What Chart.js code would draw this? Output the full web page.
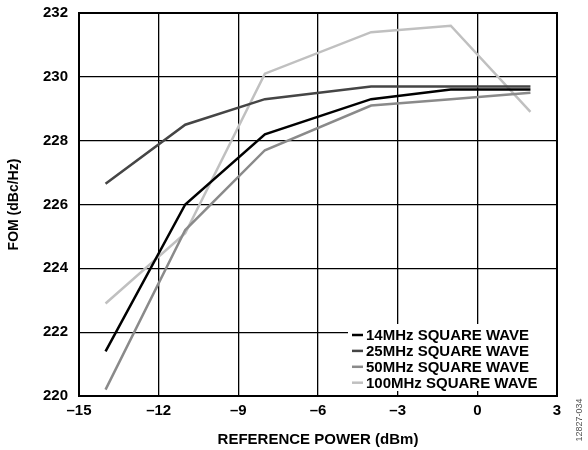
<!DOCTYPE html>
<html>
<head>
<meta charset="utf-8">
<script src="https://cdn.jsdelivr.net/npm/chart.js@4.4.1/dist/chart.umd.min.js"></script>
<style>
  html, body { margin: 0; padding: 0; background: #fff; }
</style>
</head>
<body>
<canvas id="fomChart" width="588" height="450"></canvas>
<script>
// reference power, dBm
const powers = [-14, -11, -8, -4, -1, 2];
// FOM, dBc/Hz
const fom14 = [221.4, 226.0, 228.2, 229.3, 229.6, 229.6];
const fom25 = [226.65, 228.5, 229.3, 229.7, 229.7, 229.7];
const fom50 = [220.2, 225.2, 227.7, 229.1, 229.3, 229.5];
const fom100 = [222.9, 225.1, 230.1, 231.4, 231.6, 228.9];
const seriesNames = ['14MHz SQUARE WAVE', '25MHz SQUARE WAVE', '50MHz SQUARE WAVE', '100MHz SQUARE WAVE'];
const seriesColors = ['#000000', '#454545', '#8a8a8a', '#c0c0c0'];

const pts = vals => powers.map((p, i) => ({ x: p, y: vals[i] }));
const FAMILY = '"Liberation Sans", Arial, sans-serif';

// legend box in lower right corner, drawn over the grid
const boxLegend = {
    id: 'boxLegend',
    afterDatasetsDraw(chart) {
        const { ctx, chartArea } = chart;
        const left = chartArea.right - 209;
        const top = chartArea.bottom - 72;
        ctx.save();
        ctx.fillStyle = '#fff';
        ctx.fillRect(left, top, chartArea.right - left, 67);
        ctx.font = 'bold 15px ' + FAMILY;
        ctx.textBaseline = 'middle';
        seriesNames.forEach((name, i) => {
            const y = top + 11 + i * 15.9;
            ctx.strokeStyle = seriesColors[i];
            ctx.lineWidth = 2.5;
            ctx.beginPath();
            ctx.moveTo(left + 4, y);
            ctx.lineTo(left + 15, y);
            ctx.stroke();
            ctx.fillStyle = '#000';
            ctx.fillText(name, left + 18, y + 1);
        });
        ctx.restore();
    },
    afterDraw(chart) {
        const { ctx, chartArea } = chart;
        ctx.save();
        ctx.strokeStyle = '#000';
        ctx.lineWidth = 2;
        ctx.strokeRect(chartArea.left, chartArea.top, chartArea.right - chartArea.left, chartArea.bottom - chartArea.top);
        // figure id along the right edge
        ctx.translate(580, 420);
        ctx.rotate(-Math.PI / 2);
        ctx.font = '9px ' + FAMILY;
        ctx.fillStyle = '#555';
        ctx.textAlign = 'center';
        ctx.textBaseline = 'middle';
        ctx.fillText('12827-034', 0, 0);
        ctx.restore();
    }
};

const ctx = document.getElementById('fomChart').getContext('2d');
const fomChart = new Chart(ctx, {
    type: 'line',
    data: {
        datasets: [fom14, fom25, fom50, fom100].map((vals, i) => ({
            label: seriesNames[i],
            data: pts(vals),
            borderColor: seriesColors[i],
            borderWidth: 2.5,
            pointRadius: 0,
            tension: 0,
            fill: false
        }))
    },
    options: {
        responsive: false,
        animation: false,
        layout: { padding: { top: 13, right: 31, left: 6, bottom: 1 } },
        plugins: {
            legend: { display: false },
            tooltip: { enabled: false }
        },
        scales: {
            x: {
                type: 'linear',
                min: -15,
                max: 3,
                ticks: {
                    stepSize: 3,
                    color: '#000',
                    font: { family: FAMILY, size: 15, weight: 'bold' },
                    padding: 6,
                    maxRotation: 0,
                    callback: v => String(v).replace('-', '\u2013')
                },
                grid: { color: '#000', lineWidth: 1.3, drawTicks: false },
                border: { color: '#000', width: 2 },
                title: {
                    display: true,
                    text: 'REFERENCE POWER (dBm)',
                    color: '#000',
                    font: { family: FAMILY, size: 15, weight: 'bold' },
                    padding: { top: 11, bottom: 0 }
                },
                afterFit: s => { s.height = 53; s.paddingLeft = 0; s.paddingRight = 0; }
            },
            y: {
                min: 220,
                max: 232,
                ticks: {
                    stepSize: 2,
                    color: '#000',
                    font: { family: FAMILY, size: 15, weight: 'bold' },
                    padding: 11
                },
                grid: { color: '#000', lineWidth: 1.3, drawTicks: false },
                border: { color: '#000', width: 2 },
                title: {
                    display: true,
                    text: 'FOM (dBc/Hz)',
                    color: '#000',
                    font: { family: FAMILY, size: 14, weight: 'bold' },
                    padding: { top: 0, bottom: 0 }
                },
                afterFit: s => { s.width = 73; s.paddingTop = 0; s.paddingBottom = 0; }
            }
        }
    },
    plugins: [boxLegend]
});
</script>
</body>
</html>
